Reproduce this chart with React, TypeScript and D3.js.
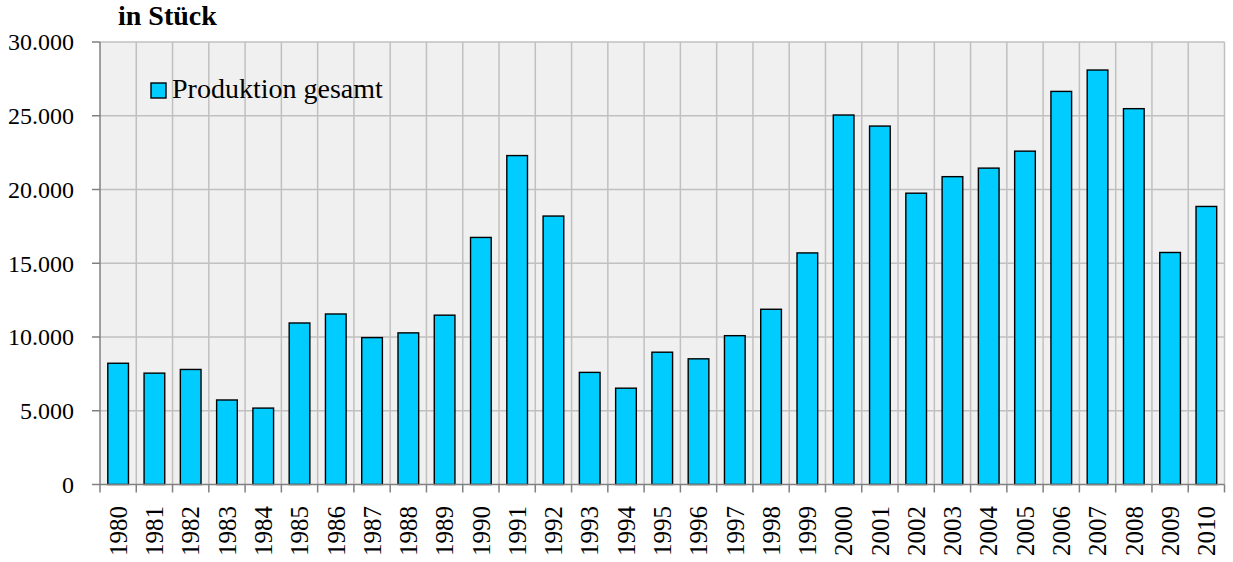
import React, { useEffect, useRef } from "react";
import * as d3 from "d3";

const years = [
  "1980", "1981", "1982", "1983", "1984", "1985", "1986", "1987", "1988", "1989",
  "1990", "1991", "1992", "1993", "1994", "1995", "1996", "1997", "1998", "1999",
  "2000", "2001", "2002", "2003", "2004", "2005", "2006", "2007", "2008", "2009", "2010",
];
const production = [
  8220, 7550, 7800, 5730, 5180, 10950, 11560, 9960, 10280, 11480,
  16750, 22300, 18200, 7600, 6530, 8970, 8520, 10090, 11880, 15700,
  25050, 24300, 19750, 20870, 21450, 22600, 26650, 28100, 25480, 15730, 18850,
];
const yTicks = [0, 5000, 10000, 15000, 20000, 25000, 30000];
const seriesName = "Produktion gesamt";
const unitLabel = "in Stück";

export default function App() {
  const svgRef = useRef<SVGSVGElement>(null);

  useEffect(() => {
    const W = 1233;
    const H = 562;
    const left = 100;
    const right = 1224.5;
    const top = 42;
    const bottom = 484.5;
    const font = "'Liberation Serif', 'Times New Roman', serif";

    const svg = d3.select(svgRef.current).attr("width", W).attr("height", H);
    svg.selectAll("*").remove();

    // scales
    const x = d3.scaleBand().domain(years).range([left, right]).paddingInner(0.43).paddingOuter(0.215);
    const xGrid = d3.scaleBand().domain(years).range([left, right]).padding(0);
    const y = d3.scaleLinear().domain([0, 30000]).range([bottom, top]);

    // plot background
    svg.append("rect")
      .attr("x", left).attr("y", top)
      .attr("width", right - left).attr("height", bottom - top)
      .attr("fill", "#f0f0f0");

    // vertical grid at category boundaries
    const bounds = years.map((d) => xGrid(d) as number).concat([right]);
    svg.selectAll(".vgrid")
      .data(bounds.slice(1))
      .join("line")
      .attr("x1", (d) => d).attr("x2", (d) => d)
      .attr("y1", top).attr("y2", bottom)
      .attr("stroke", "#c0c0c0").attr("stroke-width", 1.5);

    // horizontal grid
    svg.selectAll(".hgrid")
      .data(yTicks.slice(1))
      .join("line")
      .attr("x1", left).attr("x2", right)
      .attr("y1", (d) => y(d)).attr("y2", (d) => y(d))
      .attr("stroke", "#c0c0c0").attr("stroke-width", 1.5);

    // bars
    svg.selectAll(".bar")
      .data(production)
      .join("rect")
      .attr("x", (d, i) => x(years[i]) as number)
      .attr("y", (d) => y(d))
      .attr("width", x.bandwidth())
      .attr("height", (d) => bottom - y(d))
      .attr("fill", "#00ccff")
      .attr("stroke", "#000")
      .attr("stroke-width", 1.4);

    // y axis
    svg.append("line")
      .attr("x1", left).attr("x2", left).attr("y1", top).attr("y2", bottom)
      .attr("stroke", "#808080").attr("stroke-width", 1.5);
    svg.selectAll(".ytick")
      .data(yTicks)
      .join("line")
      .attr("x1", left - 8).attr("x2", left)
      .attr("y1", (d) => y(d)).attr("y2", (d) => y(d))
      .attr("stroke", "#808080").attr("stroke-width", 1.5);
    svg.selectAll(".ylab")
      .data(yTicks)
      .join("text")
      .attr("x", 74)
      .attr("y", (d) => y(d))
      .attr("dy", "0.35em")
      .attr("text-anchor", "end")
      .style("font-family", font)
      .style("font-size", "24px")
      .attr("fill", "#000")
      .text((d) => d3.format(",")(d).replace(/,/g, "."));

    // x axis
    svg.append("line")
      .attr("x1", left).attr("x2", right).attr("y1", bottom).attr("y2", bottom)
      .attr("stroke", "#808080").attr("stroke-width", 1.5);
    svg.selectAll(".xtick")
      .data(bounds)
      .join("line")
      .attr("x1", (d) => d).attr("x2", (d) => d)
      .attr("y1", bottom).attr("y2", bottom + 8)
      .attr("stroke", "#808080").attr("stroke-width", 1.5);
    svg.selectAll(".xlab")
      .data(years)
      .join("text")
      .attr("transform", (d) => `translate(${(xGrid(d) as number) + xGrid.bandwidth() / 2},506) rotate(-90)`)
      .attr("dy", "0.35em")
      .attr("text-anchor", "end")
      .style("font-family", font)
      .style("font-size", "25px")
      .attr("fill", "#000")
      .text((d) => d);

    // unit label
    svg.append("text")
      .attr("x", 118).attr("y", 25)
      .style("font-family", font)
      .style("font-size", "28px")
      .style("font-weight", "bold")
      .attr("fill", "#000")
      .text(unitLabel);

    // legend
    svg.append("rect")
      .attr("x", 151).attr("y", 83).attr("width", 15).attr("height", 15)
      .attr("fill", "#00ccff").attr("stroke", "#000").attr("stroke-width", 1.4);
    svg.append("text")
      .attr("x", 172).attr("y", 98)
      .style("font-family", font)
      .style("font-size", "28px")
      .attr("fill", "#000")
      .text(seriesName);
  }, []);

  return (
    <div style={{ position: "absolute", left: 0, top: 0 }}>
      <svg ref={svgRef}></svg>
    </div>
  );
}
